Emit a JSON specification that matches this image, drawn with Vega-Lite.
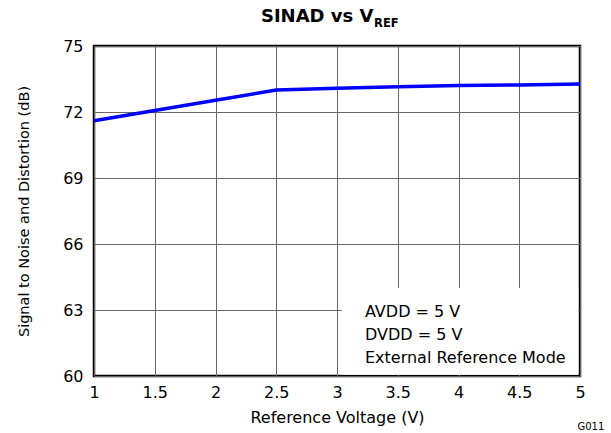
{
  "$schema": "https://vega.github.io/schema/vega-lite/v6.json",
  "width": 486,
  "height": 330,
  "autosize": {"type": "none"},
  "padding": {"left": 94, "top": 46, "right": 31, "bottom": 57},
  "background": "white",
  "config": {
    "font": "DejaVu Sans",
    "view": {"stroke": "black", "strokeWidth": 2.5},
    "axis": {"gridColor": "#666666", "gridWidth": 1, "gridOpacity": 1, "tickSize": 0, "domain": false, "labelFlush": false, "labelOverlap": false, "labelColor": "black", "titleColor": "black", "labelFont": "DejaVu Sans", "titleFont": "DejaVu Sans", "titleFontWeight": "normal"}
  },
  "datasets": {
    "curve": [
      {"v": 1.0, "sinad": 71.6},
      {"v": 1.5, "sinad": 72.07},
      {"v": 2.0, "sinad": 72.53},
      {"v": 2.5, "sinad": 73.0},
      {"v": 3.0, "sinad": 73.08},
      {"v": 3.5, "sinad": 73.15},
      {"v": 4.0, "sinad": 73.2},
      {"v": 4.5, "sinad": 73.23},
      {"v": 5.0, "sinad": 73.27}
    ],
    "box": [{"x1": 3.04, "x2": 4.985, "y1": 60.06, "y2": 64.0}],
    "notes": [
      {"x": 3.23, "y": 62.68, "label": "AVDD = 5 V"},
      {"x": 3.23, "y": 61.64, "label": "DVDD = 5 V"},
      {"x": 3.23, "y": 60.59, "label": "External Reference Mode"}
    ],
    "heading": [{"x": 3.3, "y": 76.09, "label": "SINAD vs V"}],
    "sub": [{"x": 3.305, "y": 75.86, "label": "REF"}],
    "code": [{"x": 5.09, "y": 57.545, "label": "G011"}]
  },
  "layer": [
    {
      "data": {"name": "box"},
      "mark": {"type": "rect", "fill": "white", "stroke": null},
      "encoding": {
        "x": {"field": "x1", "type": "quantitative", "scale": {"domain": [1, 5], "nice": false, "zero": false},
              "axis": {"values": [1, 1.5, 2, 2.5, 3, 3.5, 4, 4.5, 5], "format": "~g", "labelFontSize": 16, "labelPadding": 8, "title": "Reference Voltage (V)", "titleFontSize": 16, "titlePadding": 9}},
        "x2": {"field": "x2"},
        "y": {"field": "y1", "type": "quantitative", "scale": {"domain": [60, 75], "nice": false, "zero": false},
              "axis": {"values": [60, 63, 66, 69, 72, 75], "format": "~g", "labelFontSize": 16, "labelPadding": 11, "title": "Signal to Noise and Distortion (dB)", "titleFontSize": 14.5, "titlePadding": 31}},
        "y2": {"field": "y2"}
      }
    },
    {
      "data": {"name": "curve"},
      "mark": {"type": "line", "color": "#0000FF", "strokeWidth": 3.5},
      "encoding": {
        "x": {"field": "v", "type": "quantitative"},
        "y": {"field": "sinad", "type": "quantitative"}
      }
    },
    {
      "data": {"name": "notes"},
      "mark": {"type": "text", "align": "left", "baseline": "alphabetic", "fontSize": 16, "color": "black", "font": "DejaVu Sans"},
      "encoding": {
        "x": {"field": "x", "type": "quantitative"},
        "y": {"field": "y", "type": "quantitative"},
        "text": {"field": "label"}
      }
    },
    {
      "data": {"name": "heading"},
      "mark": {"type": "text", "align": "right", "baseline": "alphabetic", "fontSize": 18, "fontWeight": "bold", "color": "black", "font": "DejaVu Sans"},
      "encoding": {
        "x": {"field": "x", "type": "quantitative"},
        "y": {"field": "y", "type": "quantitative"},
        "text": {"field": "label"}
      }
    },
    {
      "data": {"name": "sub"},
      "mark": {"type": "text", "align": "left", "baseline": "alphabetic", "fontSize": 11.5, "fontWeight": "bold", "color": "black", "font": "DejaVu Sans"},
      "encoding": {
        "x": {"field": "x", "type": "quantitative"},
        "y": {"field": "y", "type": "quantitative"},
        "text": {"field": "label"}
      }
    },
    {
      "data": {"name": "code"},
      "mark": {"type": "text", "align": "center", "baseline": "alphabetic", "fontSize": 10, "color": "black", "font": "DejaVu Sans"},
      "encoding": {
        "x": {"field": "x", "type": "quantitative"},
        "y": {"field": "y", "type": "quantitative"},
        "text": {"field": "label"}
      }
    }
  ]
}
